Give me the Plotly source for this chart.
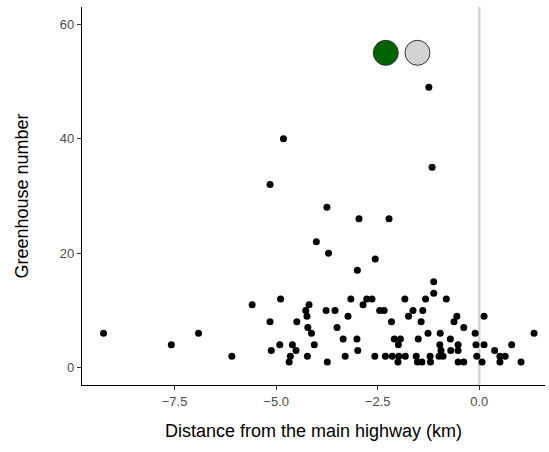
import plotly.graph_objects as go

# Distance of each greenhouse cluster from the main highway (km) and greenhouse count
distance_km = [
    -9.25, -7.58, -6.91, -6.09, -5.59, -5.15, -4.82, -3.75, -2.96, -2.22,
    -4.01, -3.71, -2.56, -3.00, -1.24, -1.16, -4.89, -5.15, -5.12, -4.91,
    -4.19, -4.27, -4.24, -4.22, -4.13, -4.49, -4.60, -4.51, -4.65, -4.68,
    -4.06, -4.23, -3.77, -3.55, -3.16, -3.23, -3.50, -3.35, -3.01, -2.99,
    -3.74, -3.30, -2.86, -2.77, -2.64, -2.45, -2.34, -2.16, -2.57, -2.31,
    -2.14, -2.09, -1.94, -1.99, -1.98, -1.82, -2.00, -1.83, -1.63, -1.74,
    -1.39, -1.32, -1.43, -1.50, -1.26, -1.55, -1.52, -1.41, -1.21, -1.20,
    -0.99, -0.89, -1.12, -1.12, -0.81, -0.55, -0.62, -0.38, 0.12, -0.10,
    1.35, -0.96, -0.71, -0.97, -0.52, -0.08, 0.12, -0.94, -0.70, -0.52,
    0.38, 0.80, 0.51, 0.64, 0.51, 1.03, -0.06, 0.07, -0.52, -0.38,
]
greenhouse_n = [
    6, 4, 6, 2, 11, 32, 40, 28, 26, 26,
    22, 20, 19, 17, 49, 35, 12, 8, 3, 4,
    11, 10, 9, 7, 6, 8, 4, 3, 2, 1,
    4, 2, 10, 10, 12, 9, 7, 5, 5, 3,
    1, 2, 11, 12, 12, 10, 10, 8, 2, 2,
    2, 5, 5, 4, 2, 2, 1, 12, 10, 9,
    10, 12, 8, 5, 6, 2, 1, 1, 2, 1,
    2, 2, 15, 13, 12, 9, 8, 7, 9, 6,
    6, 6, 5, 4, 4, 4, 4, 3, 3, 3,
    3, 4, 2, 2, 1, 1, 2, 1, 1, 1,
]

# Two highlighted key dots
key_x = [-2.3, -1.52]
key_y = [55, 55]
key_colors = ["#006400", "#D3D3D3"]

x_ticks = [-7.5, -5.0, -2.5, 0.0]
x_tick_labels = ["\u22127.5", "\u22125.0", "\u22122.5", "0.0"]
y_ticks = [0, 20, 40, 60]
y_tick_labels = ["0", "20", "40", "60"]

FONT = "Liberation Sans, Arial, Helvetica, sans-serif"

fig = go.Figure()

fig.add_trace(go.Scatter(
    x=distance_km, y=greenhouse_n, mode="markers",
    marker=dict(color="black", size=7, line=dict(width=0)),
    showlegend=False, hoverinfo="x+y",
))

fig.add_trace(go.Scatter(
    x=key_x, y=key_y, mode="markers",
    marker=dict(color=key_colors, size=25, line=dict(color="#333333", width=1)),
    showlegend=False, hoverinfo="skip",
))

# Highway reference line at zero distance
fig.add_shape(
    type="line", xref="x", yref="paper", x0=0, x1=0, y0=0, y1=1,
    line=dict(color="#D3D3D3", width=2.6), layer="below",
)

axis_common = dict(
    showgrid=False, zeroline=False, showline=True, linecolor="black",
    linewidth=1.2, ticks="outside", ticklen=4, tickwidth=1, tickcolor="#333333",
    tickfont=dict(family=FONT, size=13, color="#4D4D4D"),
)

fig.update_layout(
    width=549, height=452,
    margin=dict(l=82, r=4, t=7, b=67),
    paper_bgcolor="white", plot_bgcolor="white",
    font=dict(family=FONT),
    xaxis=dict(
        range=[-9.78, 1.62], tickvals=x_ticks, ticktext=x_tick_labels,
        title=dict(text="Distance from the main highway (km)",
                   font=dict(family=FONT, size=18, color="black"), standoff=16),
        **axis_common,
    ),
    yaxis=dict(
        range=[-3.03, 63.0], tickvals=y_ticks, ticktext=y_tick_labels,
        title=dict(text="Greenhouse number",
                   font=dict(family=FONT, size=18, color="black"), standoff=26),
        **axis_common,
    ),
)

fig.write_html("out.html")
